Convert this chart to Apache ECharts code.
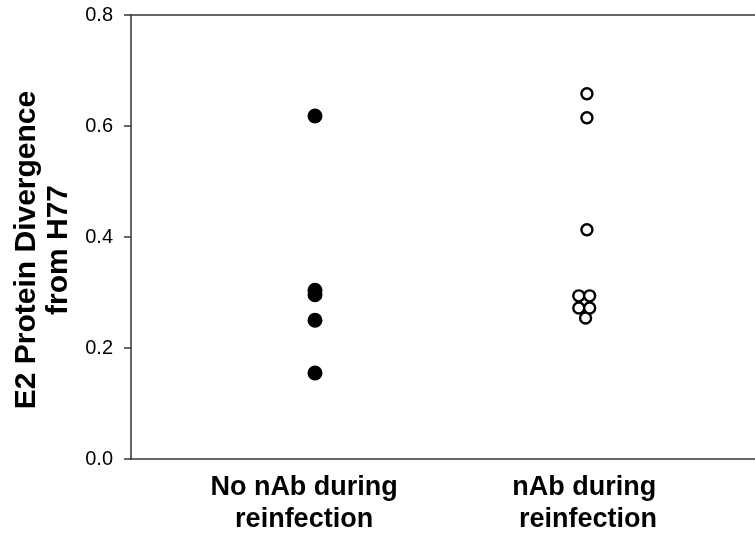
<!DOCTYPE html>
<html>
<head>
<meta charset="utf-8">
<script src="https://cdn.jsdelivr.net/npm/echarts@6/dist/echarts.min.js"></script>
<style>
  html, body { margin: 0; padding: 0; background: #fff; }
</style>
</head>
<body>
<div id="main" style="width: 755px; height: 535px"></div>
<script>
// groups on the x axis (1 = no nAb, 2 = nAb)
const groupNames = ['No nAb during\nreinfection', 'nAb during\n reinfection'];
const groupLabelPos = [0.96, 1.99];

// filled dots: no nAb during reinfection
const noNabX = [1, 1, 1, 1, 1];
const noNabY = [0.618, 0.304, 0.296, 0.250, 0.155];

// open circles: nAb during reinfection (x has a little jitter, as drawn)
const nabX = [1.995, 1.97, 2.01, 2.0, 2.0, 2.0, 1.97, 2.01];
const nabY = [0.254, 0.272, 0.272, 0.413, 0.615, 0.658, 0.294, 0.294];

const myChart = echarts.init(document.getElementById('main'));

const pairs = (xs, ys) => xs.map((x, i) => [x, ys[i]]);

const option = {
  animation: false,
  textStyle: { fontFamily: 'Liberation Sans, Arial, sans-serif' },
  grid: { left: 131, right: 0, top: 15, bottom: 76, containLabel: false, outerBoundsMode: 'none' },
  xAxis: [{
    type: 'value',
    min: 0.3234,
    max: 2.618,
    axisLine: { show: true, onZero: false, lineStyle: { color: '#333', width: 1.5 } },
    axisTick: { show: false },
    splitLine: { show: false },
    axisLabel: {
      customValues: groupLabelPos,
      formatter: function (v) {
        const i = groupLabelPos.indexOf(v);
        return i >= 0 ? groupNames[i] : '';
      },
      color: '#000',
      fontSize: 27,
      fontWeight: 'bold',
      lineHeight: 32,
      margin: 13,
      hideOverlap: false
    }
  }, {
    type: 'value',
    position: 'top',
    min: 0.3234,
    max: 2.618,
    axisLine: { show: true, onZero: false, lineStyle: { color: '#333', width: 1.5 } },
    axisTick: { show: false },
    axisLabel: { show: false },
    splitLine: { show: false }
  }],
  yAxis: {
    type: 'value',
    min: 0,
    max: 0.8,
    interval: 0.2,
    name: 'E2 Protein Divergence\nfrom H77',
    nameLocation: 'middle',
    nameRotate: 90,
    nameGap: 56,
    nameTextStyle: {
      color: '#000',
      fontSize: 30,
      fontWeight: 'bold',
      lineHeight: 32,
      align: 'center',
      padding: [0, 26, 0, 0]
    },
    axisLine: { show: true, lineStyle: { color: '#333', width: 1.5 } },
    axisTick: { show: true, inside: false, length: 7, lineStyle: { color: '#333', width: 1.5 } },
    splitLine: { show: false },
    axisLabel: {
      color: '#000',
      fontSize: 20,
      margin: 18,
      formatter: function (v) { return v.toFixed(1); }
    }
  },
  series: [
    {
      name: 'No nAb',
      type: 'scatter',
      data: pairs(noNabX, noNabY),
      symbol: 'circle',
      symbolSize: 15,
      itemStyle: { color: '#000', opacity: 1 }
    },
    {
      name: 'nAb',
      type: 'scatter',
      data: pairs(nabX, nabY),
      symbol: 'circle',
      symbolSize: 11,
      itemStyle: { color: '#fff', borderColor: '#000', borderWidth: 2.4, opacity: 1 }
    }
  ]
};

myChart.setOption(option);
</script>
</body>
</html>
